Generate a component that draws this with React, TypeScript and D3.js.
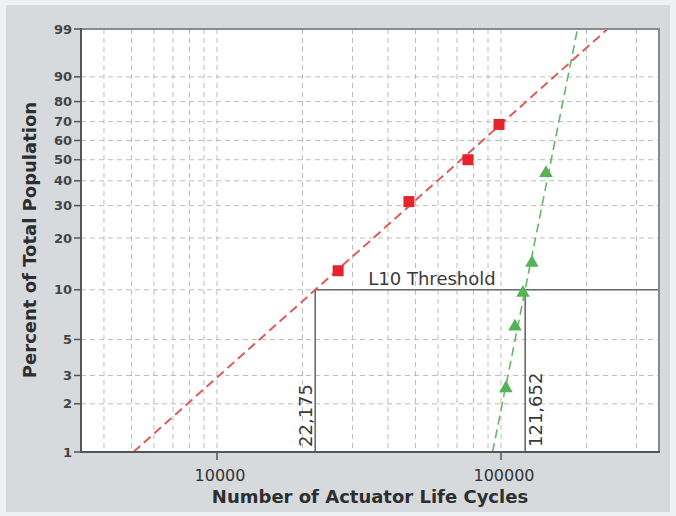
import React from "react";
import * as d3 from "d3";

// ---- data ----
const yTickPercents = [1, 2, 3, 5, 10, 20, 30, 40, 50, 60, 70, 80, 90, 99];
const xGridValues = [
  4000, 5000, 6000, 7000, 8000, 9000, 10000,
  20000, 30000, 40000, 50000, 60000, 70000, 80000, 90000, 100000,
  200000, 300000,
];
const xTickLabels = [10000, 100000];
const xDomain = [3320, 360000];

const redCycles = [26700, 47400, 76500, 98400];
const redPercents = [12.96, 31.48, 50, 68.52];
const greenCycles = [104100, 112000, 119500, 128500, 144000];
const greenPercents = [2.5, 6.0, 9.6, 14.4, 43.5];

// Weibull fits: [beta, eta]
const redFit = [1.594, 91000];
const greenFit = [8.9, 156600];

const l10Values = [22175, 121652];
const l10Labels = ["22,175", "121,652"];
const l10Percent = 10;

const W = 676;
const H = 516;
const M = { left: 81, right: 659, top: 29, bottom: 452 };

const weib = (pct: number) => Math.log(-Math.log(1 - pct / 100));

export default function App() {
  const x = d3.scaleLog().domain(xDomain).range([M.left, M.right]);
  const y = d3
    .scaleLinear()
    .domain([weib(1), weib(99)])
    .range([M.bottom, M.top]);

  const fitX = (fit: number[], pct: number) =>
    fit[1] * Math.pow(-Math.log(1 - pct / 100), 1 / fit[0]);

  const fitPath = (fit: number[]) => {
    const pts: [number, number][] = [1, 99].map((p) => [
      x(fitX(fit, p)),
      y(weib(p)),
    ]);
    return d3.line()(pts) || "";
  };

  const tri = d3.symbol().type(d3.symbolTriangle).size(80)() || "";
  const font = "'DejaVu Sans', Verdana, sans-serif";
  const yL10 = y(weib(l10Percent));

  return (
    <svg
      width={W}
      height={H}
      style={{ position: "absolute", left: 0, top: 0 }}
      fontFamily={font}
    >
      <rect x={0} y={0} width={W} height={H} fill="#eef0f1" />
      <rect x={6} y={5} width={664} height={507} fill="#d6dadd" />
      <clipPath id="plot">
        <rect x={M.left} y={M.top} width={M.right - M.left} height={M.bottom - M.top} />
      </clipPath>
      <rect
        x={M.left}
        y={M.top}
        width={M.right - M.left}
        height={M.bottom - M.top}
        fill="#ffffff"
      />
      {/* grid */}
      <g stroke="#bdbdbd" strokeWidth={1} strokeDasharray="5,4">
        {xGridValues.map((v) => (
          <line key={"vx" + v} x1={x(v)} x2={x(v)} y1={M.top} y2={M.bottom} />
        ))}
        {yTickPercents
          .filter((p) => p !== 1 && p !== 99)
          .map((p) => (
            <line key={"hy" + p} x1={M.left} x2={M.right} y1={y(weib(p))} y2={y(weib(p))} />
          ))}
      </g>
      {/* L10 threshold */}
      <g stroke="#6a6a6a" strokeWidth={1.6} fill="none">
        <line x1={x(l10Values[0])} x2={M.right} y1={yL10} y2={yL10} />
        {l10Values.map((v) => (
          <line key={"l10" + v} x1={x(v)} x2={x(v)} y1={yL10} y2={M.bottom} />
        ))}
      </g>
      <text x={432} y={285} fontSize={18} fill="#3a3a3a" textAnchor="middle">
        L10 Threshold
      </text>
      <text
        transform={`translate(${x(l10Values[0]) - 3},447) rotate(-90)`}
        fontSize={18}
        fill="#3a3a3a"
      >
        {l10Labels[0]}
      </text>
      <text
        transform={`translate(${x(l10Values[1]) + 17},447) rotate(-90)`}
        fontSize={18}
        fill="#3a3a3a"
      >
        {l10Labels[1]}
      </text>
      {/* fit lines */}
      <g clipPath="url(#plot)" fill="none">
        <path d={fitPath(redFit)} stroke="#e25a5a" strokeWidth={2} strokeDasharray="9,5" />
        <path d={fitPath(greenFit)} stroke="#64b864" strokeWidth={1.6} strokeDasharray="9,5" />
      </g>
      {/* points */}
      {redCycles.map((c, i) => (
        <rect
          key={"r" + i}
          x={x(c) - 5.5}
          y={y(weib(redPercents[i])) - 5.5}
          width={11}
          height={11}
          fill="#e4232b"
        />
      ))}
      {greenCycles.map((c, i) => (
        <path
          key={"g" + i}
          d={tri}
          transform={`translate(${x(c)},${y(weib(greenPercents[i]))})`}
          fill="#55b355"
        />
      ))}
      {/* frame */}
      <g fill="none">
        <line x1={M.left} x2={M.right + 1} y1={M.top} y2={M.top} stroke="#8a8a8a" strokeWidth={2} />
        <line x1={M.right} x2={M.right} y1={M.top} y2={M.bottom} stroke="#8a8a8a" strokeWidth={2} />
        <line x1={M.left} x2={M.left} y1={M.top - 1} y2={M.bottom + 1} stroke="#555" strokeWidth={2} />
        <line x1={M.left - 1} x2={M.right + 1} y1={M.bottom} y2={M.bottom} stroke="#555" strokeWidth={2} />
      </g>
      {/* y ticks */}
      {yTickPercents.map((p) => (
        <g key={"yt" + p}>
          <line x1={M.left - 7} x2={M.left} y1={y(weib(p))} y2={y(weib(p))} stroke="#555" strokeWidth={1.5} />
          <text
            x={M.left - 9}
            y={y(weib(p))}
            dy="0.35em"
            textAnchor="end"
            fontSize={13}
            fontWeight="bold"
            fill="#444"
          >
            {p}
          </text>
        </g>
      ))}
      {/* x ticks */}
      {xTickLabels.map((v) => (
        <g key={"xt" + v}>
          <line x1={x(v)} x2={x(v)} y1={M.bottom} y2={M.bottom + 8} stroke="#555" strokeWidth={1.5} />
          <text x={x(v) + 3} y={481} textAnchor="middle" fontSize={16} fill="#333">
            {v}
          </text>
        </g>
      ))}
      <text x={370} y={503} textAnchor="middle" fontSize={18} fontWeight="bold" fill="#2e2e2e">
        Number of Actuator Life Cycles
      </text>
      <text
        transform="translate(36,240) rotate(-90)"
        textAnchor="middle"
        fontSize={18}
        fontWeight="bold"
        fill="#2e2e2e"
      >
        Percent of Total Population
      </text>
    </svg>
  );
}
